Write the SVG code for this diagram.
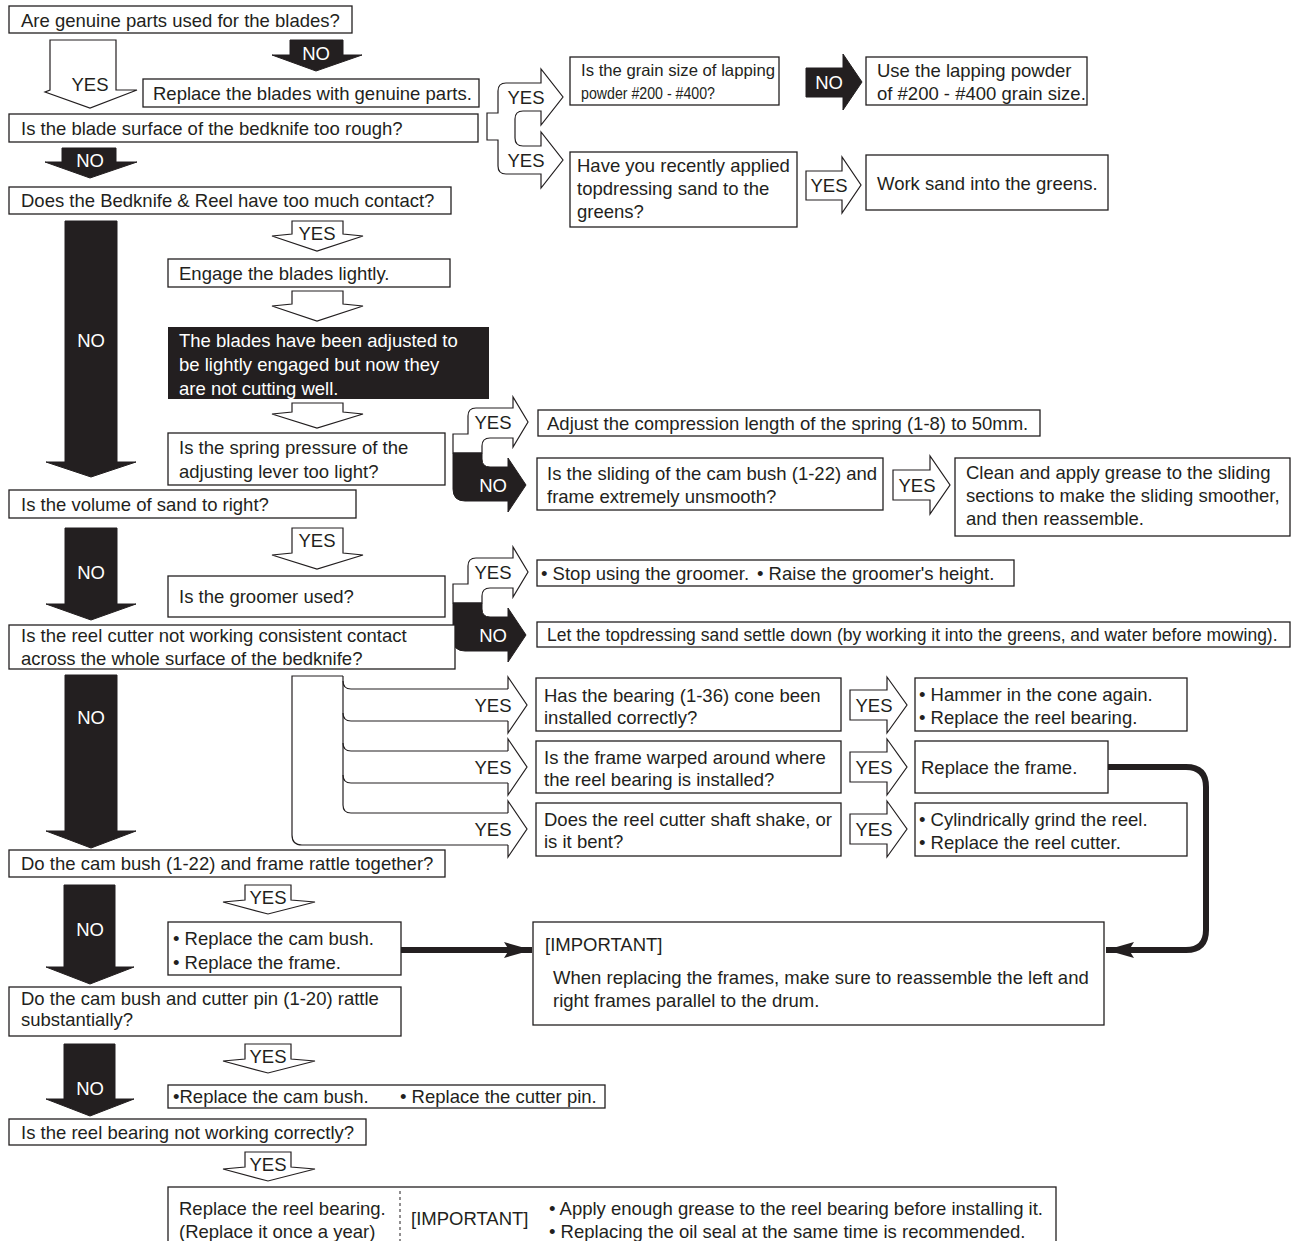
<svg xmlns="http://www.w3.org/2000/svg" width="1297" height="1241" viewBox="0 0 1297 1241">
<style>
.box{fill:#fff;stroke:#231f20;stroke-width:1.3}
.blk{fill:#231f20;stroke:#231f20;stroke-width:1}
.hol{fill:#fff;stroke:#231f20;stroke-width:1.2;stroke-linejoin:miter}
.ln{fill:none;stroke:#231f20;stroke-width:1.2}
.t{font-family:"Liberation Sans",Arial,Helvetica,sans-serif;font-size:18.5px;fill:#231f20}
.w{fill:#fff}
.c{text-anchor:middle}
.thick{fill:none;stroke:#231f20;stroke-width:6}
</style>
<defs>
<marker id="ah" markerUnits="userSpaceOnUse" markerWidth="30" markerHeight="18" refX="28" refY="9" orient="auto">
<path d="M0,1 L28,9 L0,17 L5,9 Z" fill="#231f20"/>
</marker>
</defs>
<rect width="1297" height="1241" fill="#fff"/>

<g id="connectors">
<!-- hollow down arrows -->
<path class="hol" d="M50,40 H116 V90 L137,90 L90,108 L45,92 L50,90 Z"/>
<path class="hol" d="M292,221 H343 V234 L363,236 L317,251 L272,236 L292,234 Z"/>
<path class="hol" d="M292,291 H343 V304 L363,306 L317,321 L272,306 L292,304 Z"/>
<path class="hol" d="M292,403 H343 V412 L363,414 L317,428 L272,414 L292,412 Z"/>
<path class="hol" d="M292,528 H343 V553 L363,555 L317,569 L272,555 L292,553 Z"/>
<path class="hol" d="M245,885 H291 V900 L315,902 L268,914 L223,902 L245,900 Z"/>
<path class="hol" d="M245,1044 H291 V1059 L315,1061 L268,1073 L223,1061 L245,1059 Z"/>
<path class="hol" d="M245,1152 H291 V1167 L315,1169 L268,1181 L223,1169 L245,1167 Z"/>
<!-- black down arrows -->
<path class="blk" d="M290,40 H343 V55 H362 L316,71 L272,55 H290 Z"/>
<path class="blk" d="M62,148 H116 V162 H137 L90,178 L45,162 H62 Z"/>
<path class="blk" d="M65,221 H117 V462 H136 L91,477 L46,462 H65 Z"/>
<path class="blk" d="M65,528 H117 V604 H136 L91,620 L46,604 H65 Z"/>
<path class="blk" d="M65,675 H117 V831 H136 L91,848 L46,831 H65 Z"/>
<path class="blk" d="M64,885 H115 V967 H134 L90,984 L46,967 H64 Z"/>
<path class="blk" d="M64,1044 H115 V1099 H134 L90,1116 L46,1099 H64 Z"/>
<!-- right arrows -->
<path class="blk" d="M806,68 H843 V54 L862,82 L843,110 V97 H806 Z"/>
<path class="hol" d="M806,171 H842 V157 L861,185 L842,213 V200 H806 Z"/>
<path class="hol" d="M893,470 H930 V456 L950,485 L930,514 V500 H893 Z"/>
<path class="hol" d="M850,690 H887 V677 L907,705 L887,733 V720 H850 Z"/>
<path class="hol" d="M850,752 H887 V739 L907,767 L887,795 V782 H850 Z"/>
<path class="hol" d="M850,814 H887 V801 L907,829 L887,857 V844 H850 Z"/>
<!-- fork 1 -->
<path class="hol" d="M487,113 H498 V91 Q498,83 506,83 H541 V69 L563,97 L541,125 V111 H523 Q515,111 515,119 V138 Q515,146 523,146 H541 V132 L563,160 L541,188 V174 H506 Q498,174 498,166 V140 H487 Z"/>
<!-- fork 2 -->
<g id="fork2">
<path class="hol" d="M453,453 V434 H468 V416 Q468,408 476,408 H513 V397 L528,422 L513,447 V438 H490 Q482,438 482,446 V453 Z"/>
<path class="blk" d="M453,453 H482 V459 Q482,467 490,467 H508 V458 L526,485 L508,512 V501 H465 Q453,501 453,489 Z"/>
</g>
<use href="#fork2" transform="translate(0,150)"/>
<!-- fork 4 -->
<g id="fork4">
<path class="ln" d="M343,676 H292 V835 Q292,845 302,845 H508"/>
<path class="ln" d="M343,676 V805"/>
<path class="ln" d="M343,681 Q343,689 351,689 H508 M343,713 Q343,721 351,721 H508 M343,743 Q343,751 351,751 H508 M343,775 Q343,783 351,783 H508 M343,805 Q343,813 351,813 H508"/>
<path class="ln" d="M508,689 V677 L527,705 L508,733 V721 M508,751 V739 L527,767 L508,795 V783 M508,813 V801 L527,829 L508,857 V845"/>
</g>
<!-- thick connectors -->
<path class="thick" d="M1107,767 H1186 Q1206,767 1206,787 V930 Q1206,950 1186,950 H1106" marker-end="url(#ah)"/>
<path class="thick" d="M401,950 H532" marker-end="url(#ah)"/>
<!-- arrow labels -->
<g class="t c">
<text x="90" y="91">YES</text>
<text x="316" y="60" class="t c w">NO</text>
<text x="90" y="167" class="t c w">NO</text>
<text x="317" y="240">YES</text>
<text x="91" y="347" class="t c w">NO</text>
<text x="317" y="547">YES</text>
<text x="91" y="579" class="t c w">NO</text>
<text x="91" y="724" class="t c w">NO</text>
<text x="268" y="903.5">YES</text>
<text x="90" y="936" class="t c w">NO</text>
<text x="268" y="1062.5">YES</text>
<text x="90" y="1095" class="t c w">NO</text>
<text x="268" y="1170.5">YES</text>
<text x="526" y="103.5">YES</text>
<text x="526" y="166.5">YES</text>
<text x="829" y="89" class="t c w">NO</text>
<text x="829" y="192">YES</text>
<text x="493" y="428.5">YES</text>
<text x="493" y="491.5" class="t c w">NO</text>
<text x="493" y="578.5">YES</text>
<text x="493" y="641.5" class="t c w">NO</text>
<text x="917" y="491.5">YES</text>
<text x="493" y="711.5">YES</text>
<text x="493" y="773.5">YES</text>
<text x="493" y="835.5">YES</text>
<text x="874" y="711.5">YES</text>
<text x="874" y="773.5">YES</text>
<text x="874" y="835.5">YES</text>
</g>
</g>

<g id="n1"><rect class="box" x="9" y="6" width="343" height="27"/><text class="t" x="21" y="26.5">Are genuine parts used for the blades?</text></g>
<g id="n2"><rect class="box" x="143" y="79" width="336" height="28"/><text class="t" x="153" y="99.5">Replace the blades with genuine parts.</text></g>
<g id="n3"><rect class="box" x="9" y="114" width="469" height="28"/><text class="t" x="21" y="134.5">Is the blade surface of the bedknife too rough?</text></g>
<g id="n4"><rect class="box" x="9" y="187" width="442" height="27"/><text class="t" x="21" y="207">Does the Bedknife &amp; Reel have too much contact?</text></g>
<g id="n5"><rect class="box" x="570" y="57" width="209" height="48"/><text class="t" style="font-size:16.5px" x="581" y="76" textLength="194" lengthAdjust="spacingAndGlyphs">Is the grain size of lapping</text><text class="t" style="font-size:16.5px" x="581" y="99" textLength="134" lengthAdjust="spacingAndGlyphs">powder #200 - #400?</text></g>
<g id="n6"><rect class="box" x="866" y="57" width="221" height="48"/><text class="t" x="877" y="76.5">Use the lapping powder</text><text class="t" x="877" y="99.5">of #200 - #400 grain size.</text></g>
<g id="n7"><rect class="box" x="570" y="152" width="227" height="75"/><text class="t" x="577" y="171.5">Have you recently applied</text><text class="t" x="577" y="194.5">topdressing sand to the</text><text class="t" x="577" y="217.5">greens?</text></g>
<g id="n8"><rect class="box" x="866" y="155" width="242" height="55"/><text class="t" x="877" y="189.5">Work sand into the greens.</text></g>
<g id="n9"><rect class="box" x="168" y="259" width="282" height="28"/><text class="t" x="179" y="279.5">Engage the blades lightly.</text></g>
<g id="n10"><rect x="168" y="327" width="321" height="72" fill="#231f20"/><text class="t w" x="179" y="346.5">The blades have been adjusted to</text><text class="t w" x="179" y="370.5">be lightly engaged but now they</text><text class="t w" x="179" y="394.5">are not cutting well.</text></g>
<g id="n11"><rect class="box" x="168" y="433" width="277" height="52"/><text class="t" x="179" y="453.5">Is the spring pressure of the</text><text class="t" x="179" y="477.5">adjusting lever too light?</text></g>
<g id="n12"><rect class="box" x="538" y="410" width="502" height="26"/><text class="t" x="547" y="429.5">Adjust the compression length of the spring (1-8) to 50mm.</text></g>
<g id="n13"><rect class="box" x="537" y="458" width="346" height="52"/><text class="t" x="547" y="479.5">Is the sliding of the cam bush (1-22) and</text><text class="t" x="547" y="502.5">frame extremely unsmooth?</text></g>
<g id="n14"><rect class="box" x="955" y="458" width="335" height="78"/><text class="t" x="966" y="478.5">Clean and apply grease to the sliding</text><text class="t" x="966" y="501.5">sections to make the sliding smoother,</text><text class="t" x="966" y="524.5">and then reassemble.</text></g>
<g id="n15"><rect class="box" x="9" y="490" width="347" height="28"/><text class="t" x="21" y="510.5">Is the volume of sand to right?</text></g>
<g id="n16"><rect class="box" x="168" y="576" width="277" height="41"/><text class="t" x="179" y="603">Is the groomer used?</text></g>
<g id="n17"><rect class="box" x="537" y="560" width="477" height="26"/><text class="t" x="541" y="579.5">• Stop using the groomer.</text><text class="t" x="757" y="579.5">• Raise the groomer's height.</text></g>
<g id="n18"><rect class="box" x="537" y="622" width="753" height="25"/><text class="t" style="font-size:17.5px" x="547" y="641">Let the topdressing sand settle down (by working it into the greens, and water before mowing).</text></g>
<g id="n19"><rect class="box" x="9" y="625" width="446" height="44"/><text class="t" x="21" y="641.5">Is the reel cutter not working consistent contact</text><text class="t" x="21" y="664.5">across the whole surface of the bedknife?</text></g>
<g id="n20"><rect class="box" x="536" y="678" width="305" height="53"/><text class="t" x="544" y="701.5">Has the bearing (1-36) cone been</text><text class="t" x="544" y="723.5">installed correctly?</text></g>
<g id="n21"><rect class="box" x="536" y="741" width="305" height="52"/><text class="t" x="544" y="763.5">Is the frame warped around where</text><text class="t" x="544" y="785.5">the reel bearing is installed?</text></g>
<g id="n22"><rect class="box" x="536" y="803" width="305" height="53"/><text class="t" x="544" y="825.5">Does the reel cutter shaft shake, or</text><text class="t" x="544" y="847.5">is it bent?</text></g>
<g id="n23"><rect class="box" x="915" y="678" width="272" height="53"/><text class="t" x="919" y="700.5">• Hammer in the cone again.</text><text class="t" x="919" y="723.5">• Replace the reel bearing.</text></g>
<g id="n24"><rect class="box" x="915" y="741" width="193" height="52"/><text class="t" x="921" y="773.5">Replace the frame.</text></g>
<g id="n25"><rect class="box" x="915" y="803" width="272" height="53"/><text class="t" x="919" y="825.5">• Cylindrically grind the reel.</text><text class="t" x="919" y="848.5">• Replace the reel cutter.</text></g>
<g id="n26"><rect class="box" x="9" y="850" width="436" height="27"/><text class="t" x="21" y="870">Do the cam bush (1-22) and frame rattle together?</text></g>
<g id="n27"><rect class="box" x="168" y="922" width="233" height="53"/><text class="t" x="173" y="944.5">• Replace the cam bush.</text><text class="t" x="173" y="968.5">• Replace the frame.</text></g>
<g id="n28"><rect class="box" x="533" y="922" width="571" height="103"/><text class="t" x="545" y="950.5">[IMPORTANT]</text><text class="t" x="553" y="983.5">When replacing the frames, make sure to reassemble the left and</text><text class="t" x="553" y="1006.5">right frames parallel to the drum.</text></g>
<g id="n29"><rect class="box" x="9" y="987" width="392" height="49"/><text class="t" x="21" y="1004.5">Do the cam bush and cutter pin (1-20) rattle</text><text class="t" x="21" y="1025.5">substantially?</text></g>
<g id="n30"><rect class="box" x="168" y="1085" width="437" height="23"/><text class="t" x="173" y="1103">•Replace the cam bush.</text><text class="t" x="400" y="1103">• Replace the cutter pin.</text></g>
<g id="n31"><rect class="box" x="9" y="1119" width="357" height="26"/><text class="t" x="21" y="1138.5">Is the reel bearing not working correctly?</text></g>
<g id="n32"><rect class="box" x="168" y="1187" width="888" height="64"/><line x1="400" y1="1191" x2="400" y2="1241" stroke="#231f20" stroke-width="1" stroke-dasharray="3,3"/><text class="t" x="179" y="1214.5">Replace the reel bearing.</text><text class="t" x="179" y="1237.5">(Replace it once a year)</text><text class="t" x="411" y="1224.5">[IMPORTANT]</text><text class="t" x="549" y="1214.5">• Apply enough grease to the reel bearing before installing it.</text><text class="t" x="549" y="1237.5">• Replacing the oil seal at the same time is recommended.</text></g>
</svg>
